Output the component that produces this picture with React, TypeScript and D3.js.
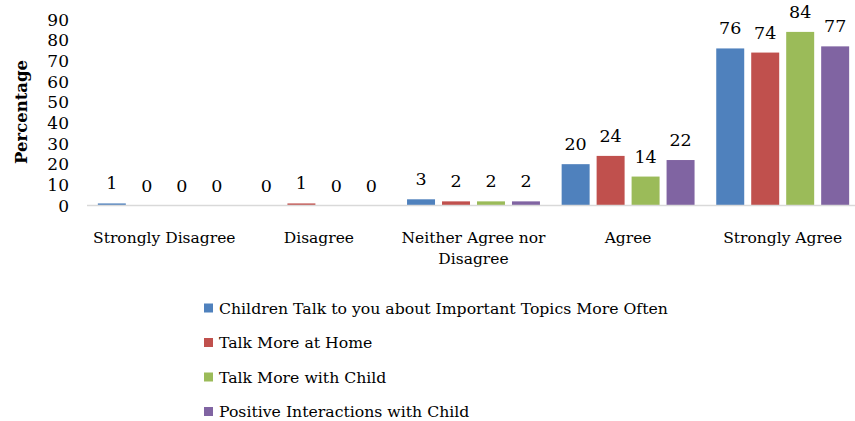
import React from "react";
import * as d3 from "d3";

const categories = ["Strongly Disagree", "Disagree", "Neither Agree nor Disagree", "Agree", "Strongly Agree"];
const categoryLines: string[][] = [
  ["Strongly Disagree"],
  ["Disagree"],
  ["Neither Agree nor", "Disagree"],
  ["Agree"],
  ["Strongly Agree"],
];
const seriesNames = [
  "Children Talk to you about Important Topics More Often",
  "Talk More at Home",
  "Talk More with Child",
  "Positive Interactions with Child",
];
const seriesColors = ["#4f81bd", "#c0504d", "#9bbb59", "#8064a2"];
const childrenTalk = [1, 0, 3, 20, 76];
const talkAtHome = [0, 1, 2, 24, 74];
const talkWithChild = [0, 0, 2, 14, 84];
const positiveInteractions = [0, 0, 2, 22, 77];
const yTicks = [0, 10, 20, 30, 40, 50, 60, 70, 80, 90];

const seriesValues = [childrenTalk, talkAtHome, talkWithChild, positiveInteractions];

const W = 855;
const H = 421;
const FONT = "'DejaVu Serif', serif";

export default function App() {
  const x0 = d3.scaleBand<string>().domain(categories).range([87, 860]).paddingInner(0).paddingOuter(0);
  const x1 = d3
    .scaleBand<string>()
    .domain(seriesNames)
    .range([0, x0.bandwidth()])
    .paddingInner(0.2)
    .paddingOuter(0.31);
  const y = d3.scaleLinear().domain([0, 90]).range([205.5, 19.5]);

  return (
    <svg
      width={W}
      height={H}
      style={{ position: "absolute", left: 0, top: 0, background: "#fff" }}
      fontFamily={FONT}
    >
      {/* y axis title */}
      <text
        transform={`translate(21,112) rotate(-90)`}
        textAnchor="middle"
        dominantBaseline="central"
        fontSize={16.5}
        fontWeight="bold"
        fill="#000"
      >
        Percentage
      </text>

      {/* y tick labels */}
      {yTicks.map((t) => (
        <text
          key={t}
          x={69}
          y={y(t)}
          textAnchor="end"
          dominantBaseline="central"
          fontSize={17}
          fill="#000"
        >
          {t}
        </text>
      ))}

      {/* bars and value labels */}
      {categories.map((c, ci) => (
        <g key={c} transform={`translate(${x0(c)},0)`}>
          {seriesNames.map((s, si) => {
            const v = seriesValues[si][ci];
            const bx = x1(s)!;
            const bw = x1.bandwidth();
            return (
              <g key={s}>
                <rect x={bx} y={y(v)} width={bw} height={y(0) - y(v)} fill={seriesColors[si]} />
                <text
                  x={bx + bw / 2}
                  y={y(v) - 14}
                  textAnchor="middle"
                  fontSize={17.5}
                  fill="#000"
                >
                  {v}
                </text>
              </g>
            );
          })}
        </g>
      ))}

      {/* category axis */}
      <line x1={87} x2={860} y1={y(0)} y2={y(0)} stroke="#d9d9d9" strokeWidth={1.5} />
      {categories.map((c, ci) => (
        <text
          key={c}
          x={x0(c)! + x0.bandwidth() / 2}
          y={243}
          textAnchor="middle"
          fontSize={15.5}
          fill="#000"
        >
          {categoryLines[ci].map((line, li) => (
            <tspan key={li} x={x0(c)! + x0.bandwidth() / 2} dy={li === 0 ? 0 : 21}>
              {line}
            </tspan>
          ))}
        </text>
      ))}

      {/* legend */}
      {seriesNames.map((s, si) => {
        const cy = 308 + si * 34.5;
        return (
          <g key={s}>
            <rect x={204} y={cy - 4.5} width={9} height={9} fill={seriesColors[si]} />
            <text x={219} y={cy} dominantBaseline="central" fontSize={15.7} fill="#000">
              {s}
            </text>
          </g>
        );
      })}
    </svg>
  );
}
